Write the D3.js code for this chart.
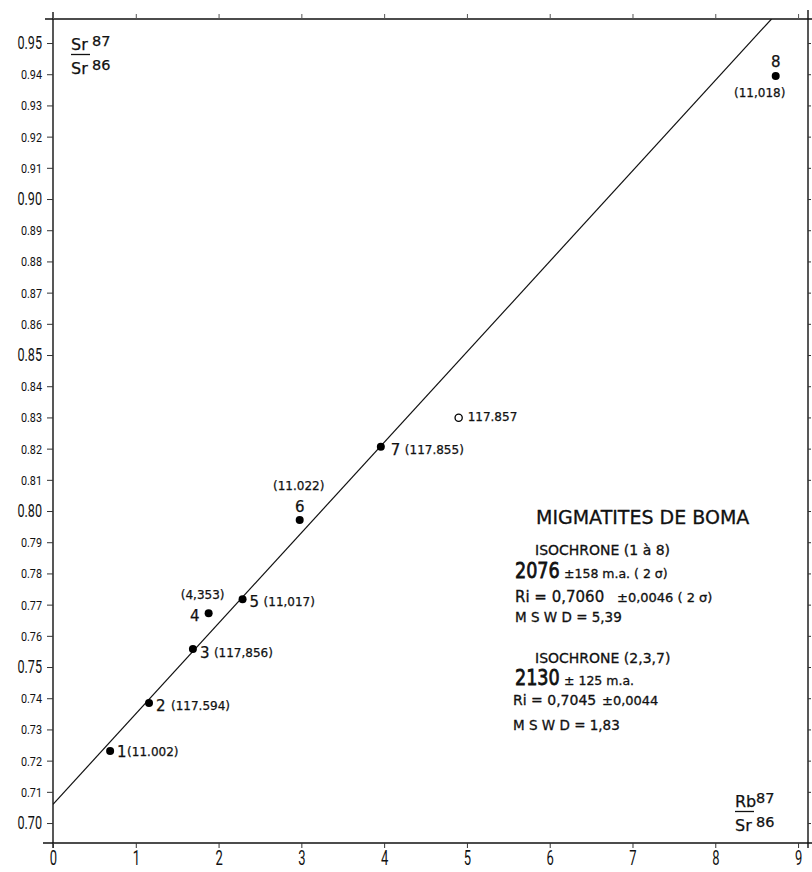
<!DOCTYPE html>
<html><head><meta charset="utf-8">
<script src="https://cdn.jsdelivr.net/npm/d3@7"></script>
<style>body{margin:0;background:#fff}svg{display:block}</style>
</head><body>
<svg id="c" width="812" height="872"></svg>
<script>
// ---- data ----
const sampleIds   = ["1","2","3","4","5","6","7","8"];
const rbSr        = [0.69, 1.16, 1.69, 1.88, 2.29, 2.98, 3.96, 8.73];   // Rb87/Sr86
const srSr        = [0.7231, 0.7385, 0.7558, 0.7672, 0.7717, 0.7971, 0.8206, 0.9394]; // Sr87/Sr86
const sampleNotes = ["(11.002)","(117.594)","(117,856)","(4,353)","(11,017)","(11.022)","(117.855)","(11,018)"];
const openX       = [4.90];
const openY       = [0.8299];
const openNotes   = ["117.857"];
const isoIntercept = [0.706];
const isoSlope     = [0.0290];
const xTicks      = [0,1,2,3,4,5,6,7,8,9];
const yTicks      = [0.70,0.71,0.72,0.73,0.74,0.75,0.76,0.77,0.78,0.79,0.80,0.81,0.82,0.83,0.84,0.85,0.86,0.87,0.88,0.89,0.90,0.91,0.92,0.93,0.94,0.95];
const yTickLabels = ["0.70","0.71","0.72","0.73","0.74","0.75","0.76","0.77","0.78","0.79","0.80","0.81","0.82","0.83","0.84","0.85","0.86","0.87","0.88","0.89","0.90","0.91","0.92","0.93","0.94","0.95"];
const yMajorLabels = ["0.70","0.75","0.80","0.85","0.90","0.95"];

// ---- layout ----
const svg = d3.select("#c");
const x = d3.scaleLinear().domain([0, 9.12]).range([53, 808]);
const y = d3.scaleLinear().domain([0.6936, 0.9577]).range([843, 19]);
const TXT = "'DejaVu Sans', sans-serif";
const NUM = "Roboto, 'DejaVu Sans', sans-serif";

// frame lines
const [x0, x1] = x.range(), [yb, yt] = y.range();
const frame = svg.append("g").attr("stroke", "#111").attr("stroke-width", 1.4);
frame.append("line").attr("x1", x0 - 10).attr("x2", x1 + 4).attr("y1", yb).attr("y2", yb);
frame.append("line").attr("x1", x0 - 8).attr("x2", x1 + 4).attr("y1", yt).attr("y2", yt);
frame.append("line").attr("x1", x0).attr("x2", x0).attr("y1", yt - 7).attr("y2", yb + 5);
frame.append("line").attr("x1", x1).attr("x2", x1).attr("y1", yt - 9).attr("y2", yb + 5);

// left axis
const yTxt = d3.scaleOrdinal().domain(yTicks).range(yTickLabels);
const gl = svg.append("g").attr("transform", `translate(${x0},0)`)
  .call(d3.axisLeft(y).tickValues(yTicks).tickSize(6).tickSizeOuter(0).tickFormat(v => yTxt(v)));
gl.select(".domain").remove();
gl.selectAll(".tick line").attr("stroke", "#333").attr("stroke-width", 1);
gl.selectAll(".tick text").each(function(){
  const t = d3.select(this), s = t.text(), major = yMajorLabels.includes(s);
  t.attr("x", null).attr("dy", null)
   .attr("font-family", NUM).attr("font-size", major ? 18 : 13.5).attr("fill", "#111")
   .attr("dominant-baseline", "central")
   .attr("transform", `translate(-11,0) scale(${major ? 0.7 : 0.8},1)`);
});

// right axis (tick marks only)
const gr = svg.append("g").attr("transform", `translate(${x1},0)`)
  .call(d3.axisRight(y).tickValues(yTicks).tickSize(3).tickSizeOuter(0).tickFormat(""));
gr.select(".domain").remove();
gr.selectAll(".tick line").attr("stroke", "#333");

// bottom axis
const gb = svg.append("g").attr("transform", `translate(0,${yb})`)
  .call(d3.axisBottom(x).tickValues(xTicks).tickSize(5).tickSizeOuter(0).tickFormat(d3.format("d")));
gb.select(".domain").remove();
gb.selectAll(".tick line").attr("stroke", "#333");
gb.selectAll(".tick text").attr("y", null).attr("dy", null)
  .attr("font-family", NUM).attr("font-size", 20).attr("fill", "#111")
  .attr("transform", "translate(0,22) scale(0.65,1)");

// top axis (tick marks only)
const gt = svg.append("g").attr("transform", `translate(0,${yt})`)
  .call(d3.axisTop(x).tickValues(xTicks).tickSize(5).tickSizeOuter(0).tickFormat(""));
gt.select(".domain").remove();
gt.selectAll(".tick line").attr("stroke", "#555");

// isochrone line
svg.append("clipPath").attr("id", "clip").append("rect")
  .attr("x", x0).attr("y", yt).attr("width", x1 - x0).attr("height", yb - yt);
const xEnd = (y.domain()[1] - isoIntercept[0]) / isoSlope[0];
const linePts = [0, xEnd].map(v => [v, isoIntercept[0] + isoSlope[0] * v]);
svg.append("path").attr("clip-path", "url(#clip)")
  .attr("d", d3.line().x(d => x(d[0])).y(d => y(d[1]))(linePts))
  .attr("fill", "none").attr("stroke", "#111").attr("stroke-width", 1.2);

// points
const pts = sampleIds.map((id, i) => ({id, xv: rbSr[i], yv: srSr[i], note: sampleNotes[i]}));
svg.append("g").selectAll("circle").data(pts).join("circle")
  .attr("cx", d => x(d.xv)).attr("cy", d => y(d.yv)).attr("r", 4).attr("fill", "#000");
svg.append("g").selectAll("circle").data(openX).join("circle")
  .attr("cx", (d) => x(d)).attr("cy", (d, i) => y(openY[i])).attr("r", 3.6)
  .attr("fill", "#fff").attr("stroke", "#000").attr("stroke-width", 1.3);

// label layout: [idDx, idDy, idAnchor, noteDx, noteDy, noteAnchor]
const labelLayout = [
  [7, 6, "start", 17, 5, "start"],
  [7, 8, "start", 22, 7, "start"],
  [7, 9, "start", 21, 8, "start"],
  [-9, 8, "end", -6, -14, "middle"],
  [7, 8, "start", 21, 7, "start"],
  [0, -8, "middle", -1, -30, "middle"],
  [10, 8, "start", 24, 7, "start"],
  [0, -9, "middle", -16, 21, "middle"]
];
const lg = svg.append("g").attr("fill", "#111").attr("font-family", TXT)
  .attr("stroke", "#111").attr("stroke-width", 0.25);
pts.forEach((d, i) => {
  const L = labelLayout[i], px = x(d.xv), py = y(d.yv);
  lg.append("text").attr("x", px + L[0]).attr("y", py + L[1]).attr("text-anchor", L[2])
    .attr("font-size", 15).text(d.id);
  lg.append("text").attr("x", px + L[3]).attr("y", py + L[4]).attr("text-anchor", L[5])
    .attr("font-size", 12).text(d.note);
});
openX.forEach((v, i) => {
  lg.append("text").attr("x", x(v) + 9).attr("y", y(openY[i]) + 3)
    .attr("font-size", 12).text(openNotes[i]);
});

// axis titles
function frac(gx, gy, top, bot) {
  const g = svg.append("g").attr("font-family", TXT).attr("fill", "#111")
    .attr("stroke", "#111").attr("stroke-width", 0.25)
    .attr("transform", `translate(${gx},${gy})`);
  g.append("text").attr("x", 0).attr("y", 0).attr("font-size", 16).text(top);
  g.append("text").attr("x", 21).attr("y", -4).attr("font-size", 14.5).text("87");
  g.append("line").attr("x1", 0).attr("x2", 19).attr("y1", 4.5).attr("y2", 4.5)
    .attr("stroke", "#111").attr("stroke-width", 1.3);
  g.append("text").attr("x", 0).attr("y", 24).attr("font-size", 16).text(bot);
  g.append("text").attr("x", 21).attr("y", 20).attr("font-size", 14.5).text("86");
}
frac(71, 50, "Sr", "Sr");
frac(735, 807, "Rb", "Sr");

// annotation block
const ann = svg.append("g").attr("font-family", TXT).attr("fill", "#111")
  .attr("stroke", "#111").attr("stroke-width", 0.3);
function t(xp, yp, s, size, extra) {
  const e = ann.append("text").attr("x", xp).attr("y", yp).attr("font-size", size).text(s);
  if (extra) extra(e);
  return e;
}
t(536, 524, "MIGMATITES DE BOMA", 19);
t(535, 555, "ISOCHRONE (1 à 8)", 14);
t(515, 578, "2076", 22, e => e.attr("stroke-width", 0.8).attr("transform", "translate(103,0) scale(0.8,1)"));
t(564, 578, "±158 m.a. ( 2 σ)", 12.5);
t(515, 602, "Ri = 0,7060", 15);
t(617, 602, "±0,0046 ( 2 σ)", 13);
t(515, 622, "M S W D = 5,39", 13.5);
t(535, 663, "ISOCHRONE (2,3,7)", 14);
t(515, 685, "2130", 22, e => e.attr("stroke-width", 0.8).attr("transform", "translate(103,0) scale(0.8,1)"));
t(564, 685, "± 125 m.a.", 12.5);
t(513, 705, "Ri = 0,7045", 14);
t(602, 705, "±0,0044", 13);
t(513, 730, "M S W D  =  1,83", 13.5);
</script>
</body></html>
